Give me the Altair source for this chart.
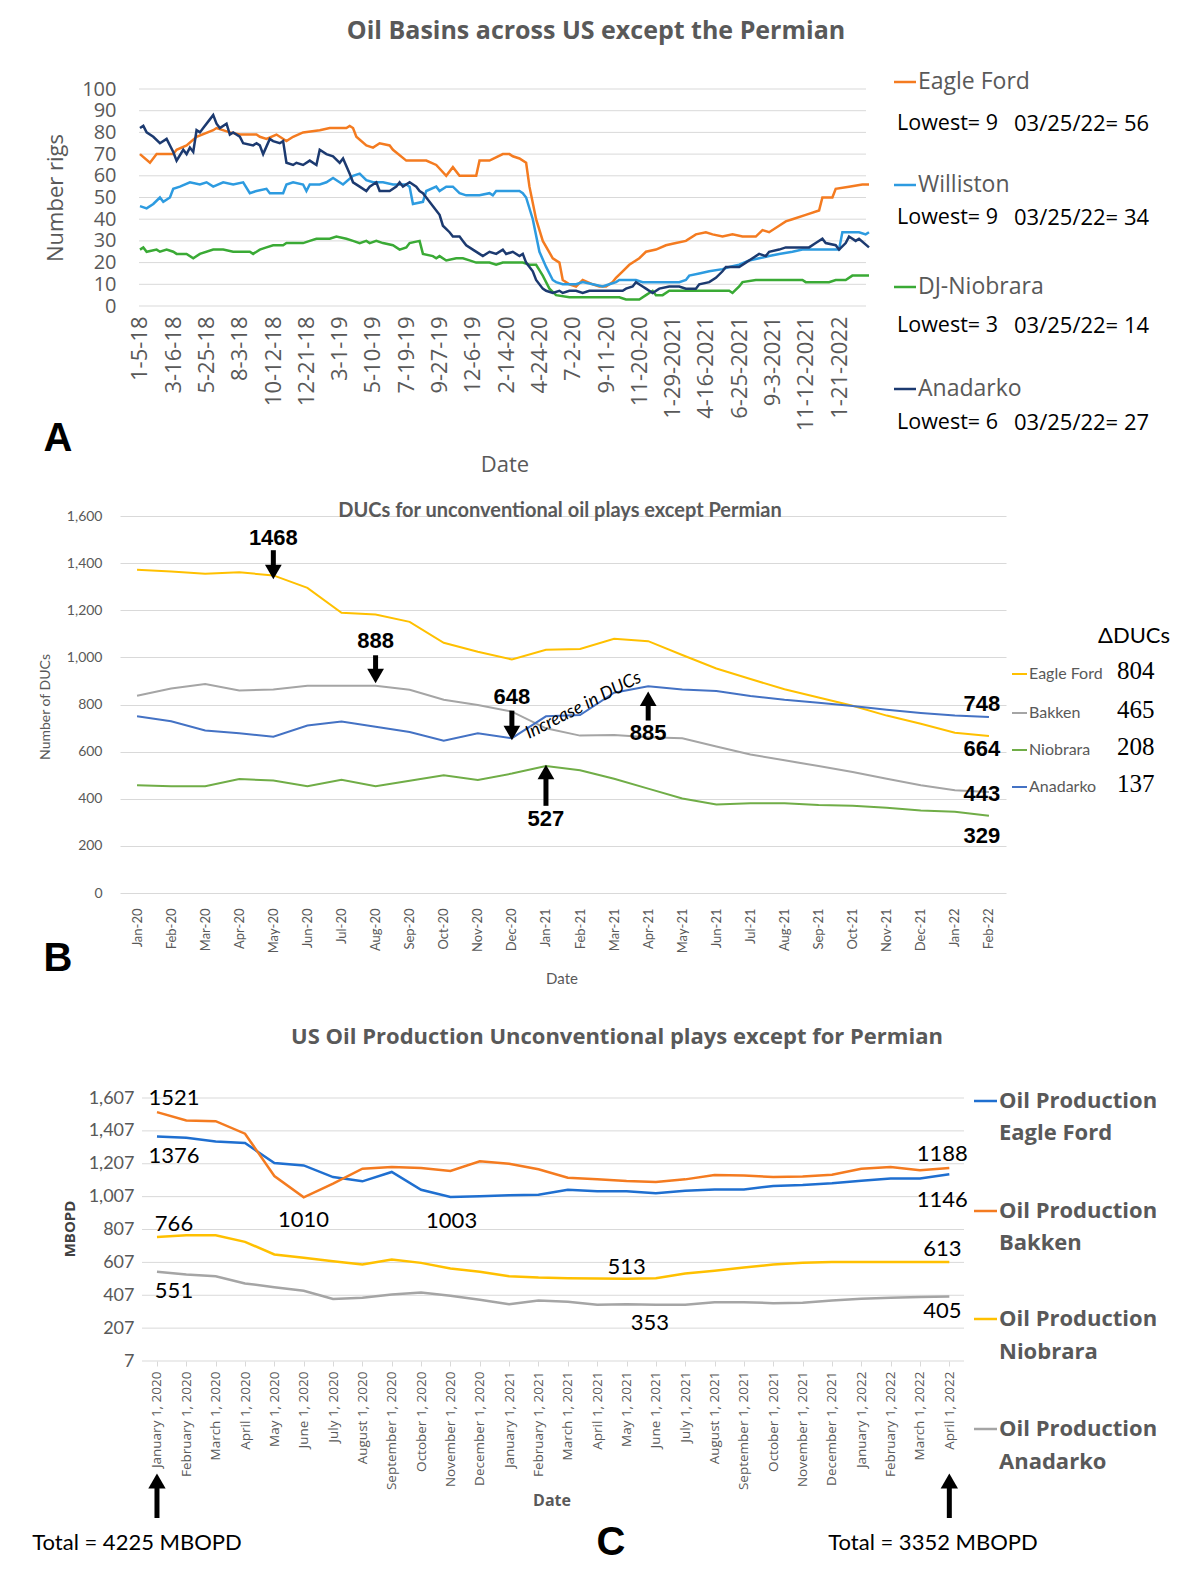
import altair as alt
import pandas as pd

# ======================= Panel A : weekly rig counts =======================
# x = week index counted from 1-5-18
a_tick_labels = ['1-5-18', '3-16-18', '5-25-18', '8-3-18', '10-12-18', '12-21-18', '3-1-19',
                 '5-10-19', '7-19-19', '9-27-19', '12-6-19', '2-14-20', '4-24-20', '7-2-20',
                 '9-11-20', '11-20-20', '1-29-2021', '4-16-2021', '6-25-2021', '9-3-2021',
                 '11-12-2021', '1-21-2022']
a_y_ticks = list(range(0, 101, 10))

a_ef_w = [0, 3, 5, 10, 11, 14, 17, 22, 23, 27, 30, 35, 36, 38, 41, 44, 46, 49, 54, 57,
          62, 63, 64, 65, 68, 70, 72, 75, 76, 80, 83, 86, 89, 92, 94, 96, 101, 102, 105, 109,
          111, 112, 114, 116, 117, 119, 121, 124, 126, 127, 129, 131, 133, 136, 138, 140, 142, 143, 145, 147,
          150, 152, 155, 158, 161, 164, 167, 170, 172, 175, 178, 181, 185, 187, 189, 192, 194, 196, 200, 204,
          205, 208, 209, 213, 217, 219]
a_ef_v = [70, 66, 70, 70, 72, 74, 78, 81, 82, 80, 79, 79, 78, 77, 79, 76, 78, 80, 81, 82,
          82, 83, 82, 78, 74, 73, 75, 74, 72, 67, 67, 67, 65, 60, 64, 60, 60, 67, 67, 70,
          70, 69, 68, 66, 55, 40, 30, 22, 20, 12, 10, 9, 12, 10, 9, 9, 11, 13, 16, 19,
          22, 25, 26, 28, 29, 30, 33, 34, 33, 32, 33, 32, 32, 35, 34, 37, 39, 40, 42, 44,
          50, 50, 54, 55, 56, 56]

a_wi_w = [0, 2, 4, 6, 7, 9, 10, 12, 15, 18, 20, 22, 25, 28, 31, 33, 35, 38, 39, 43,
          44, 46, 49, 50, 51, 54, 56, 58, 61, 64, 66, 68, 70, 73, 76, 80, 81, 82, 85, 86,
          89, 90, 92, 94, 96, 98, 102, 105, 106, 107, 114, 115, 116, 118, 120, 122, 124, 125, 127, 131,
          133, 136, 139, 141, 143, 144, 149, 151, 162, 164, 165, 168, 171, 175, 177, 180, 183, 186, 189, 192,
          196, 199, 210, 211, 216, 218, 219]
a_wi_v = [46, 45, 47, 50, 48, 50, 54, 55, 57, 56, 57, 55, 57, 56, 57, 52, 53, 54, 52, 52,
          56, 57, 56, 53, 56, 56, 57, 59, 56, 60, 61, 58, 57, 57, 56, 56, 55, 47, 48, 53,
          55, 53, 55, 55, 52, 51, 51, 52, 51, 53, 53, 52, 50, 40, 25, 18, 12, 11, 10, 10,
          11, 10, 9, 10, 11, 12, 12, 11, 11, 12, 14, 15, 16, 17, 18, 19, 21, 22, 23, 24,
          25, 26, 26, 34, 34, 33, 34]

a_dj_w = [0, 1, 2, 5, 6, 8, 10, 11, 14, 16, 18, 22, 25, 28, 33, 34, 36, 38, 40, 43,
          44, 49, 51, 53, 57, 59, 62, 64, 66, 68, 69, 71, 73, 76, 78, 80, 81, 84, 85, 88,
          89, 90, 92, 95, 97, 99, 101, 105, 107, 109, 115, 117, 119, 121, 123, 125, 129, 133, 144, 146,
          150, 152, 154, 155, 157, 159, 177, 178, 180, 181, 185, 196, 199, 200, 207, 209, 212, 214, 219]
a_dj_v = [26, 27, 25, 26, 25, 26, 25, 24, 24, 22, 24, 26, 26, 25, 25, 24, 26, 27, 28, 28,
          29, 29, 30, 31, 31, 32, 31, 30, 29, 30, 29, 30, 29, 28, 26, 27, 29, 30, 24, 23,
          22, 23, 21, 22, 22, 21, 20, 20, 19, 20, 20, 19, 19, 14, 8, 5, 4, 4, 4, 3,
          3, 5, 7, 5, 5, 7, 7, 6, 9, 11, 12, 12, 12, 11, 11, 12, 12, 14, 14]

a_an_w = [0, 1, 2, 4, 6, 8, 10, 11, 13, 14, 15, 16, 17, 18, 19, 21, 22, 23, 24, 26,
          27, 28, 30, 31, 34, 35, 36, 37, 39, 40, 42, 43, 44, 46, 47, 49, 51, 53, 54, 56,
          58, 60, 61, 63, 64, 66, 68, 69, 71, 72, 75, 77, 78, 79, 81, 83, 84, 85, 86, 89,
          90, 91, 93, 94, 96, 97, 98, 100, 102, 103, 105, 107, 109, 110, 112, 114, 115, 116, 118, 119,
          121, 122, 124, 126, 127, 129, 131, 133, 135, 145, 146, 148, 149, 151, 152, 154, 156, 159, 162, 164,
          167, 168, 171, 173, 175, 176, 180, 182, 184, 186, 188, 189, 192, 194, 201, 203, 205, 206, 209, 210,
          212, 213, 215, 216, 219]
a_an_v = [82, 83, 80, 78, 75, 77, 71, 67, 72, 70, 73, 71, 81, 80, 82, 86, 88, 84, 82, 84,
          79, 80, 78, 75, 74, 75, 74, 70, 77, 76, 75, 76, 66, 65, 66, 65, 67, 65, 72, 70,
          69, 66, 68, 61, 57, 55, 53, 55, 57, 53, 53, 55, 57, 55, 57, 55, 53, 52, 50, 44,
          42, 37, 34, 32, 32, 30, 28, 26, 24, 23, 25, 24, 26, 24, 25, 23, 24, 20, 16, 12,
          8, 7, 6, 7, 6, 7, 7, 6, 7, 7, 8, 9, 11, 9, 8, 6, 8, 9, 9, 8,
          8, 10, 11, 13, 16, 18, 18, 20, 22, 24, 23, 25, 26, 27, 27, 29, 31, 29, 28, 26,
          29, 32, 30, 31, 27]

a_names = ['Eagle Ford', 'Williston', 'DJ-Niobrara', 'Anadarko']
a_colors = ['#f47b20', '#2d9be0', '#3aaa35', '#1c3a70']
a_lowest = ['Lowest= 9', 'Lowest= 9', 'Lowest= 3', 'Lowest= 6']
a_last = ['03/25/22= 56', '03/25/22= 34', '03/25/22= 14', '03/25/22= 27']

# ======================= Panel B : DUCs =======================
b_months = ['Jan-20', 'Feb-20', 'Mar-20', 'Apr-20', 'May-20', 'Jun-20', 'Jul-20', 'Aug-20',
            'Sep-20', 'Oct-20', 'Nov-20', 'Dec-20', 'Jan-21', 'Feb-21', 'Mar-21', 'Apr-21',
            'May-21', 'Jun-21', 'Jul-21', 'Aug-21', 'Sep-21', 'Oct-21', 'Nov-21', 'Dec-21',
            'Jan-22', 'Feb-22']
b_eagle = [1372, 1365, 1355, 1361, 1348, 1295, 1189, 1182, 1151, 1062, 1024, 991, 1032,
           1036, 1079, 1069, 1010, 953, 908, 865, 830, 795, 753, 718, 680, 666]
b_bakken = [837, 868, 887, 860, 864, 880, 880, 880, 863, 820, 798, 770, 699, 668, 671,
            661, 657, 622, 588, 563, 539, 514, 485, 457, 436, 429]
b_niobrara = [457, 453, 453, 484, 477, 453, 481, 453, 476, 500, 480, 507, 539, 521, 485,
              443, 401, 376, 381, 381, 373, 370, 362, 350, 345, 328]
b_anadarko = [750, 729, 690, 678, 663, 711, 728, 706, 683, 646, 678, 657, 750, 755, 850,
              878, 864, 857, 836, 820, 808, 794, 778, 764, 753, 747]
b_names = ['Eagle Ford', 'Bakken', 'Niobrara', 'Anadarko']
b_colors = ['#ffc000', '#a5a5a5', '#70ad47', '#4472c4']
b_delta = ['804', '465', '208', '137']

b_arrow_text = ['1468', '888', '648', '885', '527']
b_arrow_x = [4, 7, 11, 15, 12]
b_arrow_text_y = [1506, 1068, 834, 681, 315]
b_arrow_from = [1455, 1009, 774, 732, 370]
b_arrow_to = [1383, 945, 702, 809, 489]
b_arrow_head = [1362, 921, 679, 824, 514]
b_arrow_dir = ['triangle-down', 'triangle-down', 'triangle-down', 'triangle-up', 'triangle-up']
b_end_text = ['748', '664', '443', '329']
b_end_y = [804, 613, 421, 243]

# ======================= Panel C : oil production =======================
c_months = ['January 1, 2020', 'February 1, 2020', 'March 1, 2020', 'April 1, 2020',
            'May 1, 2020', 'June 1, 2020', 'July 1, 2020', 'August 1, 2020',
            'September 1, 2020', 'October 1, 2020', 'November 1, 2020', 'December 1, 2020',
            'January 1, 2021', 'February 1, 2021', 'March 1, 2021', 'April 1, 2021',
            'May 1, 2021', 'June 1, 2021', 'July 1, 2021', 'August 1, 2021',
            'September 1, 2021', 'October 1, 2021', 'November 1, 2021', 'December 1, 2021',
            'January 1, 2022', 'February 1, 2022', 'March 1, 2022', 'April 1, 2022']
c_y_ticks = list(range(7, 1608, 200))
c_eagle = [1373, 1365, 1343, 1333, 1211, 1197, 1126, 1100, 1157, 1049, 1005, 1009, 1015, 1019,
           1049, 1039, 1039, 1027, 1043, 1051, 1051, 1072, 1078, 1088, 1104, 1118, 1118, 1143]
c_bakken = [1521, 1470, 1466, 1390, 1132, 1003, 1086, 1177, 1187, 1181, 1163, 1222, 1207, 1173,
            1122, 1112, 1102, 1096, 1112, 1138, 1136, 1126, 1130, 1140, 1177, 1187, 1167, 1181]
c_niobrara = [762, 772, 772, 732, 655, 635, 614, 594, 624, 604, 570, 550, 523, 515,
              511, 509, 507, 511, 539, 556, 576, 594, 604, 610, 610, 610, 610, 610]
c_anadarko = [550, 533, 523, 479, 456, 434, 384, 392, 412, 424, 404, 380, 353, 375,
              367, 349, 353, 349, 349, 365, 365, 359, 361, 375, 386, 392, 396, 400]
c_names = ['Eagle Ford', 'Bakken', 'Niobrara', 'Anadarko']
c_colors = ['#1f6fd0', '#f47b20', '#ffc000', '#a5a5a5']
c_ann_text = ['1521', '1376', '1010', '1003', '766', '551', '513', '353', '1188', '1146', '613', '405']
c_ann_x = [0.58, 0.58, 4.99, 10.04, 0.58, 0.58, 16.0, 16.8, 26.76, 26.76, 26.76, 26.76]
c_ann_y = [1607, 1253, 862, 856, 838, 434, 581, 239, 1265, 984, 691, 312]
c_totals = ['Total = 4225 MBOPD', 'Total = 3352 MBOPD']
c_total_x = [0, 27]

GRAY = '#595959'
GRID = '#d9d9d9'
ONE = alt.Data(values=[{'k': 1}])


def ptext(txt, x, y, size, color='#000000', font='Open Sans', weight='normal',
          align='left', angle=None, style=None):
    kw = dict(text=txt, fontSize=size, color=color, font=font, fontWeight=weight,
              align=align, baseline='middle')
    if angle is not None:
        kw['angle'] = angle
    if style is not None:
        kw['fontStyle'] = style
    return alt.Chart(ONE).mark_text(**kw).encode(x=alt.value(x), y=alt.value(y))


def dash(x1, x2, y, color, width=2):
    return alt.Chart(ONE).mark_rule(color=color, strokeWidth=width).encode(
        x=alt.value(x1), x2=alt.value(x2), y=alt.value(y))


def label_expr(labels, step=1):
    arr = '[' + ','.join("'" + l + "'" for l in labels) + ']'
    if step == 1:
        return arr + '[round(datum.value)]'
    return arr + '[round(datum.value/' + str(step) + ')]'


# ----------------------------- Panel A -----------------------------
XA = alt.X('x:Q', title=None,
           scale=alt.Scale(domain=[-6, 219], nice=False, zero=False),
           axis=alt.Axis(values=list(range(0, 220, 10)), labelExpr=label_expr(a_tick_labels, 10),
                         labelAngle=270, labelFontSize=22, labelFont='Open Sans',
                         labelColor=GRAY, labelPadding=10, ticks=False, tickSize=0,
                         domain=False, grid=False, labelOverlap=False, labelFlush=False,
                         labelBound=False))
YA = alt.Y('y:Q', title=None,
           scale=alt.Scale(domain=[0, 100], nice=False, zero=False),
           axis=alt.Axis(values=a_y_ticks, labelFontSize=20, labelFont='Open Sans',
                         labelColor=GRAY, labelPadding=4, ticks=False, tickSize=0,
                         domain=False, grid=False, labelOverlap=False))

a_layers = [alt.Chart(pd.DataFrame({'y': a_y_ticks})).mark_rule(color=GRID, strokeWidth=1).encode(
    y=YA, x=alt.value(19), x2=alt.value(746))]
for w, v, col in [(a_ef_w, a_ef_v, a_colors[0]), (a_wi_w, a_wi_v, a_colors[1]),
                  (a_dj_w, a_dj_v, a_colors[2]), (a_an_w, a_an_v, a_colors[3])]:
    df = pd.DataFrame({'x': w, 'y': v})
    a_layers.append(alt.Chart(df).mark_line(color=col, strokeWidth=2.5).encode(x=XA, y=YA))

a_layers.append(alt.Chart(ONE).mark_rule(color='white', strokeWidth=1).encode(
    x=alt.value(-111), x2=alt.value(-110), y=alt.value(-80)))
a_layers.append(ptext('Oil Basins across US except the Permian', 476, -58, 25, GRAY,
                      'Open Sans', 'bold', 'center'))
a_layers.append(ptext('Number rigs', -64, 109, 22, GRAY, 'Open Sans', 'normal', 'center', 270))
a_layers.append(ptext('Date', 385, 376, 22, GRAY, 'Open Sans', 'normal', 'center'))
a_layers.append(ptext('A', -62, 350, 40, '#000000', 'Liberation Sans', 'bold', 'center'))
for i, yy in enumerate([-7, 96, 198, 300]):
    a_layers.append(dash(774, 796, yy, a_colors[i], 2.5))
    a_layers.append(ptext(a_names[i], 798, yy, 23, GRAY, 'Open Sans'))
for i, yy in enumerate([35, 129, 237, 334]):
    a_layers.append(ptext(a_lowest[i], 777, yy, 21.5, '#000000', 'Open Sans'))
    a_layers.append(ptext(a_last[i], 894, yy, 22, '#000000', 'Open Sans'))

panelA = alt.layer(*a_layers).properties(width=749, height=217)

# ----------------------------- Panel B -----------------------------
XB = alt.X('x:Q', title=None,
           scale=alt.Scale(domain=[-0.5, 25.5], nice=False, zero=False),
           axis=alt.Axis(values=list(range(26)), labelExpr=label_expr(b_months),
                         labelAngle=270, labelFontSize=13, labelFont='Lato',
                         labelColor=GRAY, labelPadding=15, ticks=False, tickSize=0,
                         domain=False, grid=False, labelOverlap=False, labelFlush=False,
                         labelBound=False))
YB = alt.Y('y:Q', title=None,
           scale=alt.Scale(domain=[0, 1621.4], nice=False, zero=False),
           axis=alt.Axis(values=list(range(0, 1601, 200)), format=',.0f', labelFontSize=14,
                         labelFont='Lato', labelColor=GRAY, labelPadding=18, ticks=False,
                         tickSize=0, domain=False, grid=True, gridColor=GRID, labelOverlap=False))

b_layers = []
for vals, col in [(b_eagle, b_colors[0]), (b_bakken, b_colors[1]),
                  (b_niobrara, b_colors[2]), (b_anadarko, b_colors[3])]:
    df = pd.DataFrame({'x': list(range(len(vals))), 'y': vals})
    b_layers.append(alt.Chart(df).mark_line(color=col, strokeWidth=2).encode(x=XB, y=YB))

arrow_df = pd.DataFrame({'x': b_arrow_x, 'y': b_arrow_from, 'y2': b_arrow_to,
                         'yh': b_arrow_head, 'ty': b_arrow_text_y, 't': b_arrow_text,
                         'shape': b_arrow_dir})
b_layers.append(alt.Chart(arrow_df).mark_rule(color='#000000', strokeWidth=5).encode(
    x=XB, y=YB, y2='y2:Q'))
for shp in ['triangle-down', 'triangle-up']:
    b_layers.append(alt.Chart(arrow_df).transform_filter(alt.datum.shape == shp).transform_calculate(
        y='datum.yh').mark_point(shape=shp, filled=True, color='#000000', size=280, opacity=1,
                                 strokeWidth=0).encode(x=XB, y=YB))
b_layers.append(alt.Chart(arrow_df).transform_calculate(y='datum.ty').mark_text(
    font='Liberation Sans', fontSize=22, fontWeight='bold', color='#000000',
    baseline='middle').encode(x=XB, y=YB, text='t:N'))
end_df = pd.DataFrame({'x': [25] * 4, 'y': b_end_y, 't': b_end_text})
b_layers.append(alt.Chart(end_df).mark_text(
    font='Liberation Sans', fontSize=22, fontWeight='bold', color='#000000',
    baseline='middle', dx=-7).encode(x=XB, y=YB, text='t:N'))
inc_df = pd.DataFrame({'x': [13.1], 'y': [795], 't': ['Increase in DUCs']})
b_layers.append(alt.Chart(inc_df).mark_text(
    font='Lato', fontSize=18, fontStyle='italic', color='#000000', angle=333,
    baseline='middle').encode(x=XB, y=YB, text='t:N'))

b_layers.append(ptext('DUCs for unconventional oil plays except Permian', 440, 0, 20, GRAY,
                      'Lato', 'bold', 'center'))
b_layers.append(ptext('Number of DUCs', -74, 196, 14, GRAY, 'Lato', 'normal', 'center', 270))
b_layers.append(ptext('Date', 442, 468, 15, GRAY, 'Lato', 'normal', 'center'))
b_layers.append(ptext('B', -62, 448, 40, '#000000', 'Liberation Sans', 'bold', 'center'))
b_layers.append(ptext('\u0394DUCs', 978, 125, 22, '#000000', 'Lato'))
for i, yy in enumerate([163, 202, 239, 276]):
    b_layers.append(dash(892, 907, yy, b_colors[i], 2))
    b_layers.append(ptext(b_names[i], 909, yy, 16, GRAY, 'Lato'))
    b_layers.append(ptext(b_delta[i], 997, yy - 3, 25, '#000000', 'Liberation Serif'))

panelB = alt.layer(*b_layers).properties(width=886, height=382)

# ----------------------------- Panel C -----------------------------
XC = alt.X('x:Q', title=None,
           scale=alt.Scale(domain=[-1.26, 27.5], nice=False, zero=False),
           axis=alt.Axis(values=list(range(28)), labelExpr=label_expr(c_months),
                         labelAngle=270, labelFontSize=13.5, labelFont='Open Sans',
                         labelColor=GRAY, labelPadding=5, ticks=True, tickSize=5,
                         tickColor=GRID, domain=False, grid=False,
                         labelOverlap=False, labelFlush=False, labelBound=False))
YC = alt.Y('y:Q', title=None,
           scale=alt.Scale(domain=[7, 1607], nice=False, zero=False),
           axis=alt.Axis(values=c_y_ticks, format=',.0f', labelFontSize=18,
                         labelFont='Lato', labelColor=GRAY, labelPadding=5, offset=-19,
                         ticks=False, tickSize=0, domain=False, grid=False,
                         labelOverlap=False))

c_layers = [alt.Chart(pd.DataFrame({'y': c_y_ticks})).mark_rule(color=GRID, strokeWidth=1).encode(
    y=YC, x=alt.value(22), x2=alt.value(844))]
for vals, col in [(c_eagle, c_colors[0]), (c_bakken, c_colors[1]),
                  (c_niobrara, c_colors[2]), (c_anadarko, c_colors[3])]:
    df = pd.DataFrame({'x': list(range(len(vals))), 'y': vals})
    c_layers.append(alt.Chart(df).mark_line(color=col, strokeWidth=2.5).encode(x=XC, y=YC))

ann_df = pd.DataFrame({'x': c_ann_x, 'y': c_ann_y, 't': c_ann_text})
c_layers.append(alt.Chart(ann_df).mark_text(font='Lato', fontSize=22, color='#000000',
                                            baseline='middle').encode(x=XC, y=YC, text='t:N'))
tot_df = pd.DataFrame({'x': c_total_x, 't': c_totals})
c_layers.append(alt.Chart(tot_df).mark_rule(color='#000000', strokeWidth=5).encode(
    x=XC, y=alt.value(390), y2=alt.value(420)))
c_layers.append(alt.Chart(tot_df).mark_point(shape='triangle-up', filled=True, color='#000000',
                                             size=300, opacity=1, strokeWidth=0).encode(
    x=XC, y=alt.value(383)))
c_layers.append(ptext(c_totals[0], 17, 445, 22, '#000000', 'Lato', 'normal', 'center'))
c_layers.append(ptext(c_totals[1], 813, 445, 22, '#000000', 'Lato', 'normal', 'center'))

c_layers.append(ptext('US Oil Production Unconventional plays except for Permian', 497, -61, 22,
                      GRAY, 'Open Sans', 'bold', 'center'))
c_layers.append(ptext('MBOPD', -50, 131, 15, '#404040', 'Open Sans', 'bold', 'center', 270))
c_layers.append(ptext('Date', 432, 403, 16, GRAY, 'Open Sans', 'bold', 'center'))
c_layers.append(ptext('C', 491, 445, 40, '#000000', 'Liberation Sans', 'bold', 'center'))
for i, (y1, y2) in enumerate([(3, 35), (113, 145), (221, 254), (331, 364)]):
    c_layers.append(dash(854, 877, y1, c_colors[i], 2.5))
    c_layers.append(ptext('Oil Production', 879, y1, 22, GRAY, 'Open Sans', 'bold'))
    c_layers.append(ptext(c_names[i], 879, y2, 22, GRAY, 'Open Sans', 'bold'))

panelC = alt.layer(*c_layers).properties(width=844, height=263)

chart = alt.vconcat(panelA, panelB, panelC, spacing=205, bounds='flush').properties(
    padding={'left': 0, 'top': 0, 'right': 0, 'bottom': 0}
).configure_view(strokeWidth=0)

chart.save('out.html', embed_options={'renderer': 'svg', 'actions': False})
